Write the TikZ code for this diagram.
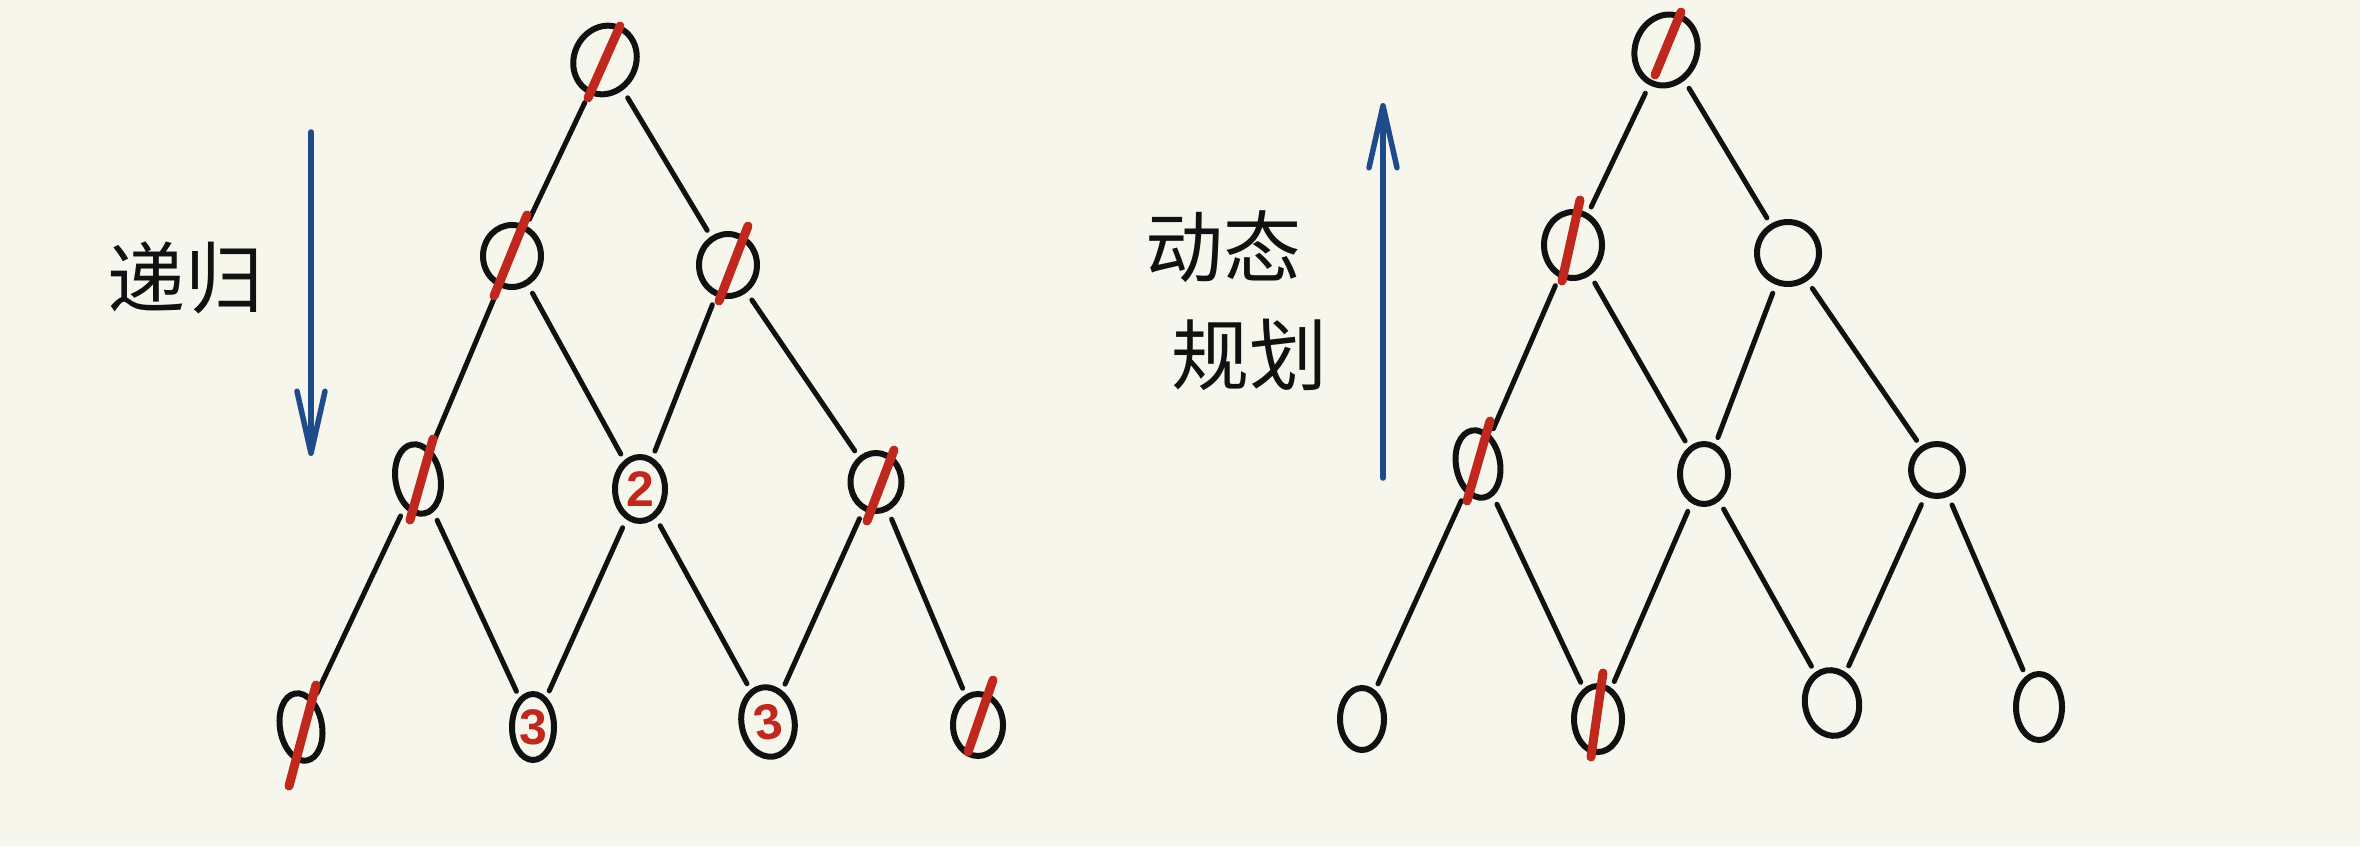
\documentclass[tikz,border=0pt]{standalone}
\usepackage{fontspec}
\newfontfamily\cjkfont{Noto Sans CJK SC}
\newfontfamily\numfont{Liberation Sans}
\usetikzlibrary{shapes.geometric,calc,arrows.meta}
\definecolor{paper}{HTML}{F6F6EC}
\definecolor{ink}{HTML}{111111}
\definecolor{mark}{HTML}{C0281E}
\definecolor{pen}{HTML}{1F4A8C}
\begin{document}
\begin{tikzpicture}[x=1pt,y=-1pt,
  state/.style={ellipse,draw=ink,line width=6pt,inner sep=0pt,outer sep=0pt,
    text=mark,font=\numfont\bfseries\fontsize{50}{50}\selectfont},
  link/.style={draw=ink,line width=5pt,line cap=round,shorten <=12pt,shorten >=10pt},
  slash/.style={draw=mark,line width=9pt,line cap=round},
  flow/.style={draw=pen,line width=5.5pt,line cap=round,
    -{Straight Barb[length=62pt,width=28pt,line width=5.5pt,round]}},
  label/.style={font=\cjkfont\fontsize{78}{80}\selectfont,inner sep=0pt,text=ink}]
\fill[paper] (0,0) rectangle (2360,846);
\useasboundingbox (0,0) rectangle (2360,846);

% ---------- recursion tree ----------
\node[state,minimum width=62pt,minimum height=70pt,rotate=-25] (r)  at (605,60) {};
\node[state,minimum width=58pt,minimum height=62pt] (a)  at (512,256) {};
\node[state,minimum width=58pt,minimum height=62pt] (b)  at (728,265) {};
\node[state,minimum width=45pt,minimum height=70pt,rotate=10] (c)  at (418,479) {};
\node[state,minimum width=50pt,minimum height=64pt] (d)  at (640,489) {2};
\node[state,minimum width=51pt,minimum height=58pt] (e)  at (876,482) {};
\node[state,minimum width=42pt,minimum height=68pt,rotate=10] (f)  at (301,727) {};
\node[state,minimum width=42pt,minimum height=66pt] (g)  at (533,727) {3};
\node[state,minimum width=53pt,minimum height=70pt,rotate=10] (h)  at (768,722) {3};
\node[state,minimum width=50pt,minimum height=62pt] (i)  at (978,725) {};

\draw[link] (r) -- (a);
\draw[link] (r) -- (b);
\draw[link] (a) -- (c);
\draw[link] (a) -- (d);
\draw[link] (b) -- (d);
\draw[link] (b) -- (e);
\draw[link] (c) -- (f);
\draw[link] (c) -- (g);
\draw[link] (d) -- (g);
\draw[link] (d) -- (h);
\draw[link] (e) -- (h);
\draw[link] (e) -- (i);

\draw[slash] ($(r)+(-17,38)$) -- ($(r)+(15,-34)$);
\draw[slash] ($(a)+(-18,40)$) -- ($(a)+(15,-41)$);
\draw[slash] ($(b)+(-9,36)$)  -- ($(b)+(20,-39)$);
\draw[slash] ($(c)+(-8,41)$)  -- ($(c)+(15,-40)$);
\draw[slash] ($(e)+(-9,39)$)  -- ($(e)+(18,-32)$);
\draw[slash] ($(f)+(-12,59)$) -- ($(f)+(15,-42)$);
\draw[slash] ($(i)+(-10,27)$) -- ($(i)+(15,-45)$);

\coordinate (downtop) at (311,132);
\coordinate (downend) at (311,456);
\draw[flow] (downtop) -- (downend);
\node[label] (rec) at (185,278) {递归};

% ---------- dynamic programming lattice ----------
\node[state,minimum width=62pt,minimum height=72pt,rotate=-20] (R)  at (1666,50) {};
\node[state,minimum width=58pt,minimum height=66pt] (A)  at (1573,245) {};
\node[state,minimum width=62pt,minimum height=62pt] (B)  at (1788,253) {};
\node[state,minimum width=44pt,minimum height=68pt,rotate=10] (C)  at (1478,464) {};
\node[state,minimum width=48pt,minimum height=60pt] (D)  at (1704,474) {};
\node[state,minimum width=52pt,minimum height=52pt] (E)  at (1937,470) {};
\node[state,minimum width=44pt,minimum height=62pt] (F)  at (1362,719) {};
\node[state,minimum width=48pt,minimum height=66pt] (G)  at (1598,719) {};
\node[state,minimum width=54pt,minimum height=66pt,rotate=10] (H)  at (1832,703) {};
\node[state,minimum width=46pt,minimum height=66pt] (I)  at (2039,707) {};

\draw[link] (R) -- (A);
\draw[link] (R) -- (B);
\draw[link] (A) -- (C);
\draw[link] (A) -- (D);
\draw[link] (B) -- (D);
\draw[link] (B) -- (E);
\draw[link] (C) -- (F);
\draw[link] (C) -- (G);
\draw[link] (D) -- (G);
\draw[link] (D) -- (H);
\draw[link] (E) -- (H);
\draw[link] (E) -- (I);

\draw[slash] ($(R)+(-11,25)$) -- ($(R)+(15,-38)$);
\draw[slash] ($(A)+(-11,36)$) -- ($(A)+(7,-45)$);
\draw[slash] ($(C)+(-11,37)$) -- ($(C)+(12,-43)$);
\draw[slash] ($(G)+(-7,38)$)  -- ($(G)+(5,-46)$);

\coordinate (upbottom) at (1383,478);
\coordinate (uptop)    at (1383,103);
\draw[flow] (upbottom) -- (uptop);
\node[label] (dp1) at (1223,247) {动态};
\node[label] (dp2) at (1249,355) {规划};
\end{tikzpicture}
\end{document}
